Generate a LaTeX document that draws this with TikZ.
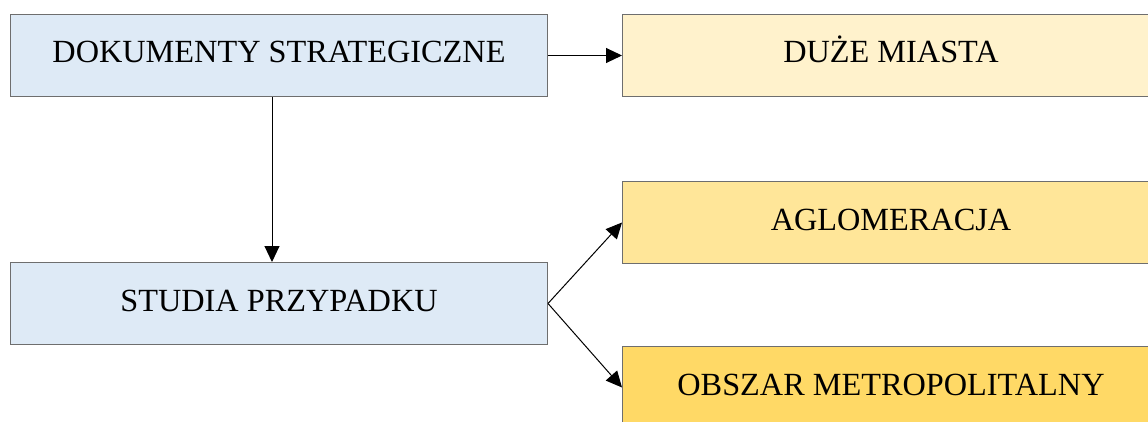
\documentclass[tikz,border=0pt]{standalone}
\usepackage{fontspec}
\setmainfont{Liberation Serif}
\usetikzlibrary{arrows.meta}
\definecolor{boxblue}{HTML}{DEEAF6}
\definecolor{boxcream}{HTML}{FFF2CC}
\definecolor{boxsand}{HTML}{FFE699}
\definecolor{boxgold}{HTML}{FFD966}
\definecolor{boxline}{HTML}{6E6E6E}
\tikzset{
  x=1pt, y=1pt,
  stage/.style={draw=boxline, line width=1pt, anchor=north west,
    minimum width=537pt, minimum height=82pt, inner sep=0pt,
    text height=21pt, text depth=6pt,
    font=\fontsize{32.3}{37}\selectfont},
  link/.style={draw=black, line width=1pt,
    -{Triangle[length=16pt, width=15pt]}}
}
\begin{document}
\begin{tikzpicture}
\useasboundingbox (0,0) rectangle (1148,421);
\clip (0,0) rectangle (1148,421);
% left column
\node[stage, fill=boxblue] (docs) at (10,407) {DOKUMENTY STRATEGICZNE};
\node[stage, fill=boxblue] (cases) at (10,159) {STUDIA PRZYPADKU};
% right column
\node[stage, fill=boxcream] (cities) at (622,407) {DUŻE MIASTA};
\node[stage, fill=boxsand] (aglo) at (622,240) {AGLOMERACJA};
\node[stage, fill=boxgold] (metro) at (622,75) {OBSZAR METROPOLITALNY};
% connectors
\draw[link] (docs.east) -- (cities.west);
\draw[link] (docs.south west) ++(262,0) coordinate (drop) -- (drop |- cases.north);
\draw[link] (cases.east) -- (aglo.west);
\draw[link] (cases.east) -- (metro.west);
\end{tikzpicture}
\end{document}
